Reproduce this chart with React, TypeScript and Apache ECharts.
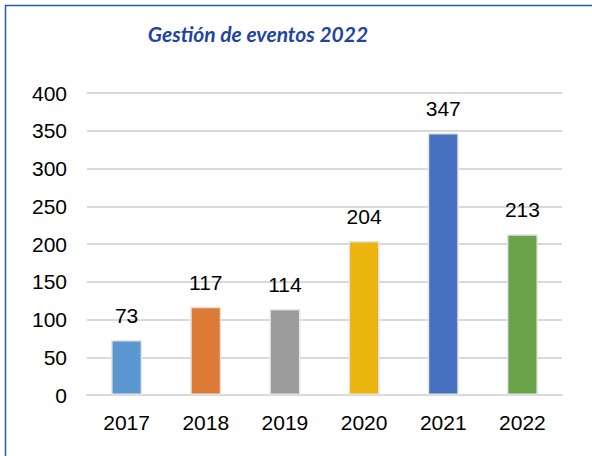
import React, { useEffect, useRef } from "react";
import * as echarts from "echarts";

const categories = ["2017", "2018", "2019", "2020", "2021", "2022"];
const values = [73, 117, 114, 204, 347, 213];
const barColors = ["#5b97d1", "#dd7a35", "#9b9b9b", "#ecb40f", "#4470bf", "#6ba34a"];
const yTicks = [0, 50, 100, 150, 200, 250, 300, 350, 400];
const titleText = "Gestión de eventos 2022";

export default function App() {
  const ref = useRef<HTMLDivElement>(null);
  useEffect(() => {
    if (!ref.current) return;
    const chart = echarts.init(ref.current, undefined, { renderer: "svg" });
    chart.setOption({
      animation: false,
      backgroundColor: "#ffffff",
      graphic: [
        {
          type: "rect",
          shape: { x: 5.5, y: 5.5, width: 600, height: 470 },
          style: { fill: "none", stroke: "#2457b8", lineWidth: 1.5 },
          silent: true,
        },
        {
          type: "text",
          x: 258,
          y: 33,
          style: {
            text: titleText,
            font: "italic bold 21px Lato",
            fill: "#1f44a3",
            textAlign: "center",
            textVerticalAlign: "middle",
          },
        },
      ],
      grid: { left: 87, right: 30, top: 93, bottom: 61 },
      xAxis: {
        type: "category",
        data: categories,
        axisLine: { show: true, lineStyle: { color: "#d9d9d9", width: 2 } },
        axisTick: { show: false },
        axisLabel: {
          color: "#000",
          fontSize: 21,
          fontFamily: "Liberation Sans",
          margin: 17,
        },
      },
      yAxis: {
        type: "value",
        min: 0,
        max: yTicks[yTicks.length - 1],
        interval: 50,
        axisLine: { show: false },
        axisTick: { show: false },
        splitLine: { lineStyle: { color: "#d9d9d9", width: 2 } },
        axisLabel: {
          color: "#000",
          fontSize: 21,
          fontFamily: "Liberation Sans",
          margin: 20,
        },
      },
      series: [
        {
          type: "bar",
          barWidth: 31,
          data: values.map((v, i) => ({
            value: v,
            itemStyle: { color: barColors[i] },
          })),
          itemStyle: { borderColor: "#e4e4e4", borderWidth: 1.5 },
          label: {
            show: true,
            position: "top",
            distance: 14,
            color: "#000",
            fontSize: 21,
            fontFamily: "Liberation Sans",
          },
        },
      ],
    });
    return () => chart.dispose();
  }, []);
  return <div ref={ref} style={{ width: 592, height: 456, position: "absolute", left: 0, top: 0 }} />;
}
